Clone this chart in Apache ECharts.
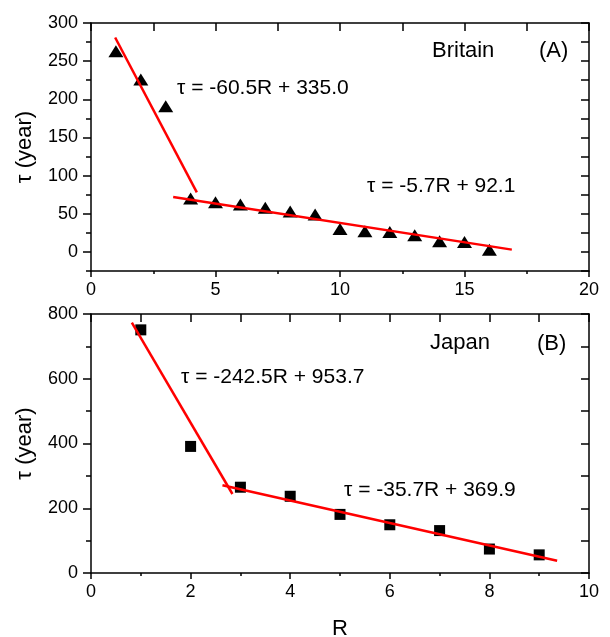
<!DOCTYPE html>
<html>
<head>
<meta charset="utf-8">
<script src="https://cdn.jsdelivr.net/npm/echarts@6/dist/echarts.min.js"></script>
<style>
html,body{margin:0;padding:0;background:#fff;overflow:hidden;}
#chart{width:610px;height:637px;}
</style>
</head>
<body>
<div id="chart"></div>
<script>
// ---- data ----
const R_britain = [1, 2, 3, 4, 5, 6, 7, 8, 9, 10, 11, 12, 13, 14, 15, 16];
const tau_britain = [263, 226, 191, 70, 65, 62, 58, 53, 49, 30, 27, 26, 22, 14, 13, 3];
const R_japan = [1, 2, 3, 4, 5, 6, 7, 8, 9];
const tau_japan = [751, 391, 265, 237, 181, 149, 131, 74, 56];
// fitted line segments as drawn (R, tau)
const fitA1 = [[0.97, 281], [4.25, 78]];
const fitA2 = [[3.3, 72], [16.9, 3]];
const fitB1 = [[0.82, 773], [2.84, 244]];
const fitB2 = [[2.64, 271], [9.36, 38]];
// tick labels
const yTicksA = [0, 50, 100, 150, 200, 250, 300];
// annotation texts
const eqA1 = 'τ = -60.5R + 335.0';
const eqA2 = 'τ = -5.7R + 92.1';
const eqB1 = 'τ = -242.5R + 953.7';
const eqB2 = 'τ = -35.7R + 369.9';

const FONT = '"Liberation Sans", Arial, sans-serif';
const black = '#000';
function ls() { return {color: black, width: 1.5}; }
function aLine() { return {show: true, onZero: false, lineStyle: ls()}; }
function zip(xs, ys) { return xs.map((x, i) => [x, ys[i]]); }
function baseLabel(extra) { return Object.assign({fontFamily: FONT, fontSize: 18, color: black}, extra); }
function nameStyle() { return {fontFamily: FONT, fontSize: 22, color: black}; }

const chart = echarts.init(document.getElementById('chart'), null, {width: 610, height: 637});

chart.setOption({
  animation: false,
  backgroundColor: '#fff',
  grid: [
    {left: 91, right: 21, top: 23, height: 248, outerBoundsMode: 'none', containLabel: false},
    {left: 91, right: 21, top: 314, height: 259, outerBoundsMode: 'none', containLabel: false}
  ],
  xAxis: [
    { gridIndex: 0, type: 'value', position: 'bottom', min: 0, max: 20, interval: 5,
      axisLine: aLine(), axisTick: {show: true, inside: false, length: 6, lineStyle: ls()},
      minorTick: {show: true, splitNumber: 2, length: 3, lineStyle: ls()},
      axisLabel: baseLabel({margin: 10}), splitLine: {show: false} },
    { gridIndex: 0, type: 'value', position: 'top', min: 0, max: 20, interval: 2.5,
      axisLine: aLine(), axisTick: {show: true, inside: true, length: 8, lineStyle: ls()},
      axisLabel: {show: false}, splitLine: {show: false} },
    { gridIndex: 1, type: 'value', position: 'bottom', min: 0, max: 10, interval: 2,
      axisLine: aLine(), axisTick: {show: true, inside: false, length: 6, lineStyle: ls()},
      minorTick: {show: true, splitNumber: 2, length: 3, lineStyle: ls()},
      axisLabel: baseLabel({margin: 10}), splitLine: {show: false},
      name: 'R', nameLocation: 'middle', nameGap: 45, nameTextStyle: nameStyle() },
    { gridIndex: 1, type: 'value', position: 'top', min: 0, max: 10, interval: 1,
      axisLine: aLine(), axisTick: {show: true, inside: true, length: 8, lineStyle: ls()},
      axisLabel: {show: false}, splitLine: {show: false} }
  ],
  yAxis: [
    { gridIndex: 0, type: 'value', position: 'left', min: -25, max: 300, axisLine: aLine(),
      axisTick: {show: true, inside: false, length: 8, lineStyle: ls(), customValues: yTicksA},
      axisLabel: baseLabel({margin: 13, customValues: yTicksA}), splitLine: {show: false},
      name: 'τ (year)', nameLocation: 'middle', nameGap: 55, nameTextStyle: nameStyle() },
    { gridIndex: 0, type: 'value', position: 'left', min: -25, max: 300, interval: 25,
      axisLine: {show: false, onZero: false}, axisTick: {show: true, inside: false, length: 5, lineStyle: ls()},
      axisLabel: {show: false}, splitLine: {show: false} },
    { gridIndex: 0, type: 'value', position: 'right', min: -25, max: 300, interval: 25,
      axisLine: aLine(), axisTick: {show: true, inside: true, length: 8, lineStyle: ls()},
      axisLabel: {show: false}, splitLine: {show: false} },
    { gridIndex: 1, type: 'value', position: 'left', min: 0, max: 800, interval: 200, axisLine: aLine(),
      axisTick: {show: true, inside: false, length: 8, lineStyle: ls()},
      minorTick: {show: true, splitNumber: 2, length: 5, lineStyle: ls()},
      axisLabel: baseLabel({margin: 13}), splitLine: {show: false},
      name: 'τ (year)', nameLocation: 'middle', nameGap: 55, nameTextStyle: nameStyle() },
    { gridIndex: 1, type: 'value', position: 'right', min: 0, max: 800, interval: 100,
      axisLine: aLine(), axisTick: {show: true, inside: true, length: 8, lineStyle: ls()},
      axisLabel: {show: false}, splitLine: {show: false} }
  ],
  series: [
    { type: 'scatter', xAxisIndex: 0, yAxisIndex: 0, data: zip(R_britain, tau_britain),
      symbol: 'triangle', symbolSize: [15, 12], itemStyle: {color: black, opacity: 1}, z: 2 },
    { type: 'line', xAxisIndex: 0, yAxisIndex: 0, data: fitA1, symbol: 'none',
      lineStyle: {color: '#ff0000', width: 2.5}, z: 3 },
    { type: 'line', xAxisIndex: 0, yAxisIndex: 0, data: fitA2, symbol: 'none',
      lineStyle: {color: '#ff0000', width: 2.5}, z: 3 },
    { type: 'scatter', xAxisIndex: 2, yAxisIndex: 3, data: zip(R_japan, tau_japan),
      symbol: 'rect', symbolSize: 11, itemStyle: {color: black, opacity: 1}, z: 2 },
    { type: 'line', xAxisIndex: 2, yAxisIndex: 3, data: fitB1, symbol: 'none',
      lineStyle: {color: '#ff0000', width: 2.5}, z: 3 },
    { type: 'line', xAxisIndex: 2, yAxisIndex: 3, data: fitB2, symbol: 'none',
      lineStyle: {color: '#ff0000', width: 2.5}, z: 3 }
  ],
  graphic: [
    {type: 'text', left: 432, top: 40, style: {text: 'Britain', font: '22px ' + FONT, fill: black}},
    {type: 'text', left: 539, top: 40, style: {text: '(A)', font: '22px ' + FONT, fill: black}},
    {type: 'text', left: 177, top: 78, style: {text: eqA1, font: '21px ' + FONT, fill: black}},
    {type: 'text', left: 367, top: 176, style: {text: eqA2, font: '21px ' + FONT, fill: black}},
    {type: 'text', left: 430, top: 332, style: {text: 'Japan', font: '22px ' + FONT, fill: black}},
    {type: 'text', left: 537, top: 333, style: {text: '(B)', font: '22px ' + FONT, fill: black}},
    {type: 'text', left: 181, top: 367, style: {text: eqB1, font: '21px ' + FONT, fill: black}},
    {type: 'text', left: 344, top: 480, style: {text: eqB2, font: '21px ' + FONT, fill: black}}
  ]
});
</script>
</body>
</html>
